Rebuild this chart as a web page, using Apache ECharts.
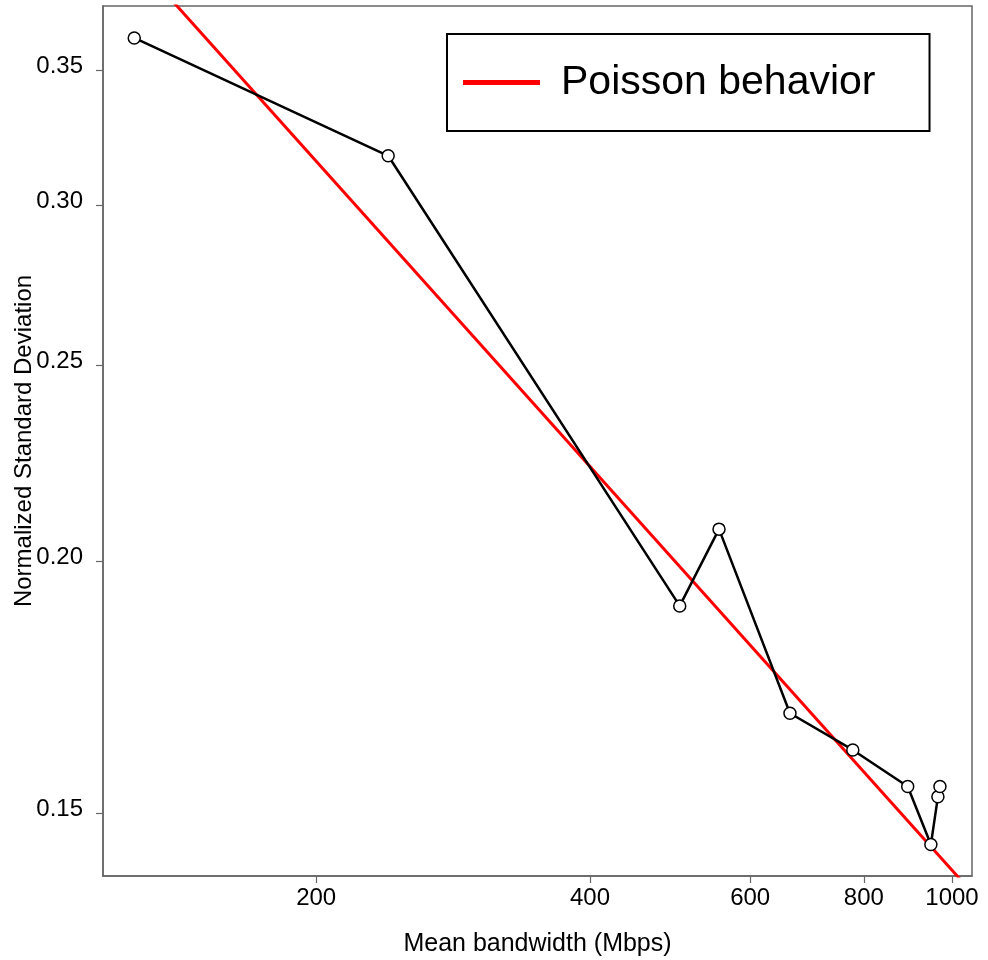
<!DOCTYPE html>
<html>
<head>
<meta charset="utf-8">
<script src="https://cdn.jsdelivr.net/npm/echarts@6/dist/echarts.min.js"></script>
<style>html,body{margin:0;padding:0;background:#fff}#c{width:988px;height:960px}</style>
</head>
<body>
<div id="c"></div>
<script>
// Measured data (Mbps, normalized std dev)
const bandwidth = [126.2, 240, 502, 554.5, 663.6, 778, 894, 948, 965, 970];
const normStd = [0.3633, 0.3176, 0.190, 0.2074, 0.1681, 0.1612, 0.1546, 0.1447, 0.1528, 0.1546];
// Poisson reference line endpoints
const poissonX = [116.6, 1052];
const poissonY = [0.414, 0.137];
// Tick labels
const xTicks = [200, 400, 600, 800, 1000];
const yTicks = [0.15, 0.20, 0.25, 0.30, 0.35];
const xRange = [116.6, 1052];
const yRange = [0.1396, 0.3768];

const L = Math.log10;
const font = "'Liberation Sans', Arial, sans-serif";
const axisGray = '#666666';

const chart = echarts.init(document.getElementById('c'), null, {renderer: 'canvas'});
chart.setOption({
  animation: false,
  backgroundColor: '#ffffff',
  textStyle: {fontFamily: font},
  grid: {left: 103, right: 16, top: 6, bottom: 84, show: true, borderColor: axisGray, borderWidth: 1.5, containLabel: false, outerBoundsMode: 'none'},
  legend: {
    data: ['Poisson behavior'],
    left: 447, top: 34,
    orient: 'vertical',
    borderColor: '#000', borderWidth: 2,
    padding: [28, 54, 28, 16],
    itemWidth: 77, itemHeight: 5, itemGap: 0,
    icon: 'rect',
    textStyle: {fontSize: 41, color: '#000', fontFamily: font, padding: [0, 0, 0, 16]},
    backgroundColor: '#fff'
  },
  xAxis: {
    type: 'value',
    min: L(xRange[0]), max: L(xRange[1]),
    name: 'Mean bandwidth (Mbps)',
    nameLocation: 'middle', nameGap: 56, nameMoveOverlap: false,
    nameTextStyle: {fontSize: 25, color: '#000', fontFamily: font},
    axisLine: {show: true, lineStyle: {color: axisGray, width: 1.5}},
    axisTick: {show: true, length: 7, lineStyle: {color: axisGray, width: 1.2}, customValues: xTicks.map(L)},
    axisLabel: {customValues: xTicks.map(L), formatter: v => String(Math.round(Math.pow(10, v))), fontSize: 24, color: '#000', margin: 10, fontFamily: font},
    splitLine: {show: false}
  },
  yAxis: {
    type: 'value',
    min: L(yRange[0]), max: L(yRange[1]),
    name: 'Normalized Standard Deviation',
    nameLocation: 'middle', nameGap: 67, nameMoveOverlap: false,
    nameTextStyle: {fontSize: 24, color: '#000', fontFamily: font},
    axisLine: {show: true, lineStyle: {color: axisGray, width: 1.5}},
    axisTick: {show: true, length: 7, lineStyle: {color: axisGray, width: 1.2}, customValues: yTicks.map(L)},
    axisLabel: {customValues: yTicks.map(L), formatter: v => Math.pow(10, v).toFixed(2), fontSize: 24, color: '#000', margin: 20, verticalAlign: 'bottom', lineHeight: 8, fontFamily: font},
    splitLine: {show: false}
  },
  series: [
    {
      name: 'Poisson behavior',
      type: 'line',
      data: poissonX.map((x, i) => [L(x), L(poissonY[i])]),
      showSymbol: false, symbol: 'none',
      lineStyle: {color: '#ff0000', width: 3},
      itemStyle: {color: '#ff0000'},
      clip: true, z: 2
    },
    {
      name: 'Measured',
      type: 'line',
      data: bandwidth.map((x, i) => [L(x), L(normStd[i])]),
      symbol: 'circle', symbolSize: 12,
      lineStyle: {color: '#000', width: 2.5},
      itemStyle: {color: '#fff', borderColor: '#000', borderWidth: 1.5},
      clip: true, z: 3
    }
  ]
});
</script>
</body>
</html>
